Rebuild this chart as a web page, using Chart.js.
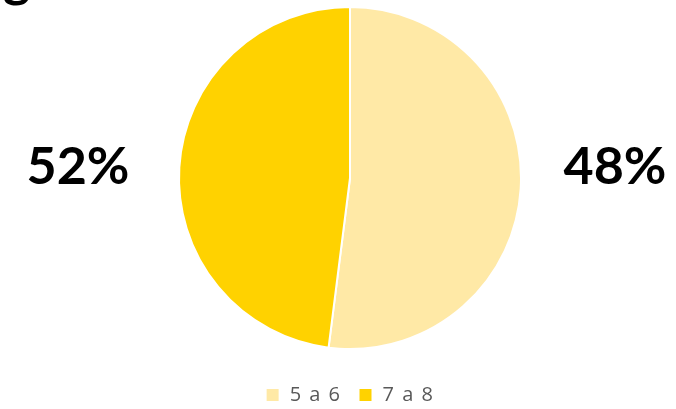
<!DOCTYPE html>
<html>
<head>
<meta charset="utf-8">
<script src="https://cdn.jsdelivr.net/npm/chart.js@4/dist/chart.umd.min.js"></script>
<style>
  html, body { margin: 0; padding: 0; background: #fff; }
  #wrap { width: 676px; height: 409px; position: relative; }
</style>
</head>
<body>
<div id="wrap"><canvas id="pieChart"></canvas></div>
<script>
const categories = ['5 a 6', '7 a 8'];
const shares = [52, 48];
const colors = ['#FFE9A6', '#FFD200'];
// labels sit on the left / right of the pie, as in the original slide
const sideLabels = ['52%', '48%'];

const labelPlugin = {
  id: 'sideLabels',
  beforeLayout(chart) {
    chart.ctx.letterSpacing = '1.5px';
    const legend = chart.legend;
    if (legend && !legend._patched) {
      const fit = legend.fit;
      legend.fit = function () {
        fit.call(this);
        this.height = 60; // fixed band under the pie
      };
      legend._patched = true;
    }
  },
  beforeDraw(chart) {
    chart.ctx.letterSpacing = '1.5px';
  },
  afterDraw(chart) {
    const ctx = chart.ctx;
    const arc = chart.getDatasetMeta(0).data[0];
    ctx.save();
    ctx.letterSpacing = '0px';
    ctx.fillStyle = '#000';
    ctx.font = 'bold 52px Lato';
    ctx.textAlign = 'center';
    ctx.textBaseline = 'middle';
    ctx.fillText(sideLabels[0], arc.x - 272, arc.y - 11);
    ctx.fillText(sideLabels[1], arc.x + 265, arc.y - 11);
    // bottom of the cut-off slide title
    ctx.textAlign = 'left';
    ctx.textBaseline = 'alphabetic';
    ctx.fillText('g', 3, -4);
    ctx.restore();
  }
};

new Chart(document.getElementById('pieChart'), {
  type: 'pie',
  data: {
    labels: categories,
    datasets: [{
      data: shares,
      backgroundColor: colors,
      borderColor: '#ffffff',
      borderWidth: 2,
      radius: 171
    }]
  },
  options: {
    responsive: true,
    maintainAspectRatio: false,
    animation: false,
    layout: { padding: { left: 24, top: 7, bottom: 0 } },
    plugins: {
      legend: {
        position: 'bottom',
        title: {
          display: true,
          text: ' ',
          font: { size: 10 },
          padding: { top: 7, bottom: 0 }
        },
        labels: {
          boxWidth: 14,
          boxHeight: 14,
          color: '#595959',
          font: { family: 'Open Sans', size: 20 },
          padding: 17
        }
      },
      tooltip: { enabled: false }
    }
  },
  plugins: [labelPlugin]
});
</script>
</body>
</html>
